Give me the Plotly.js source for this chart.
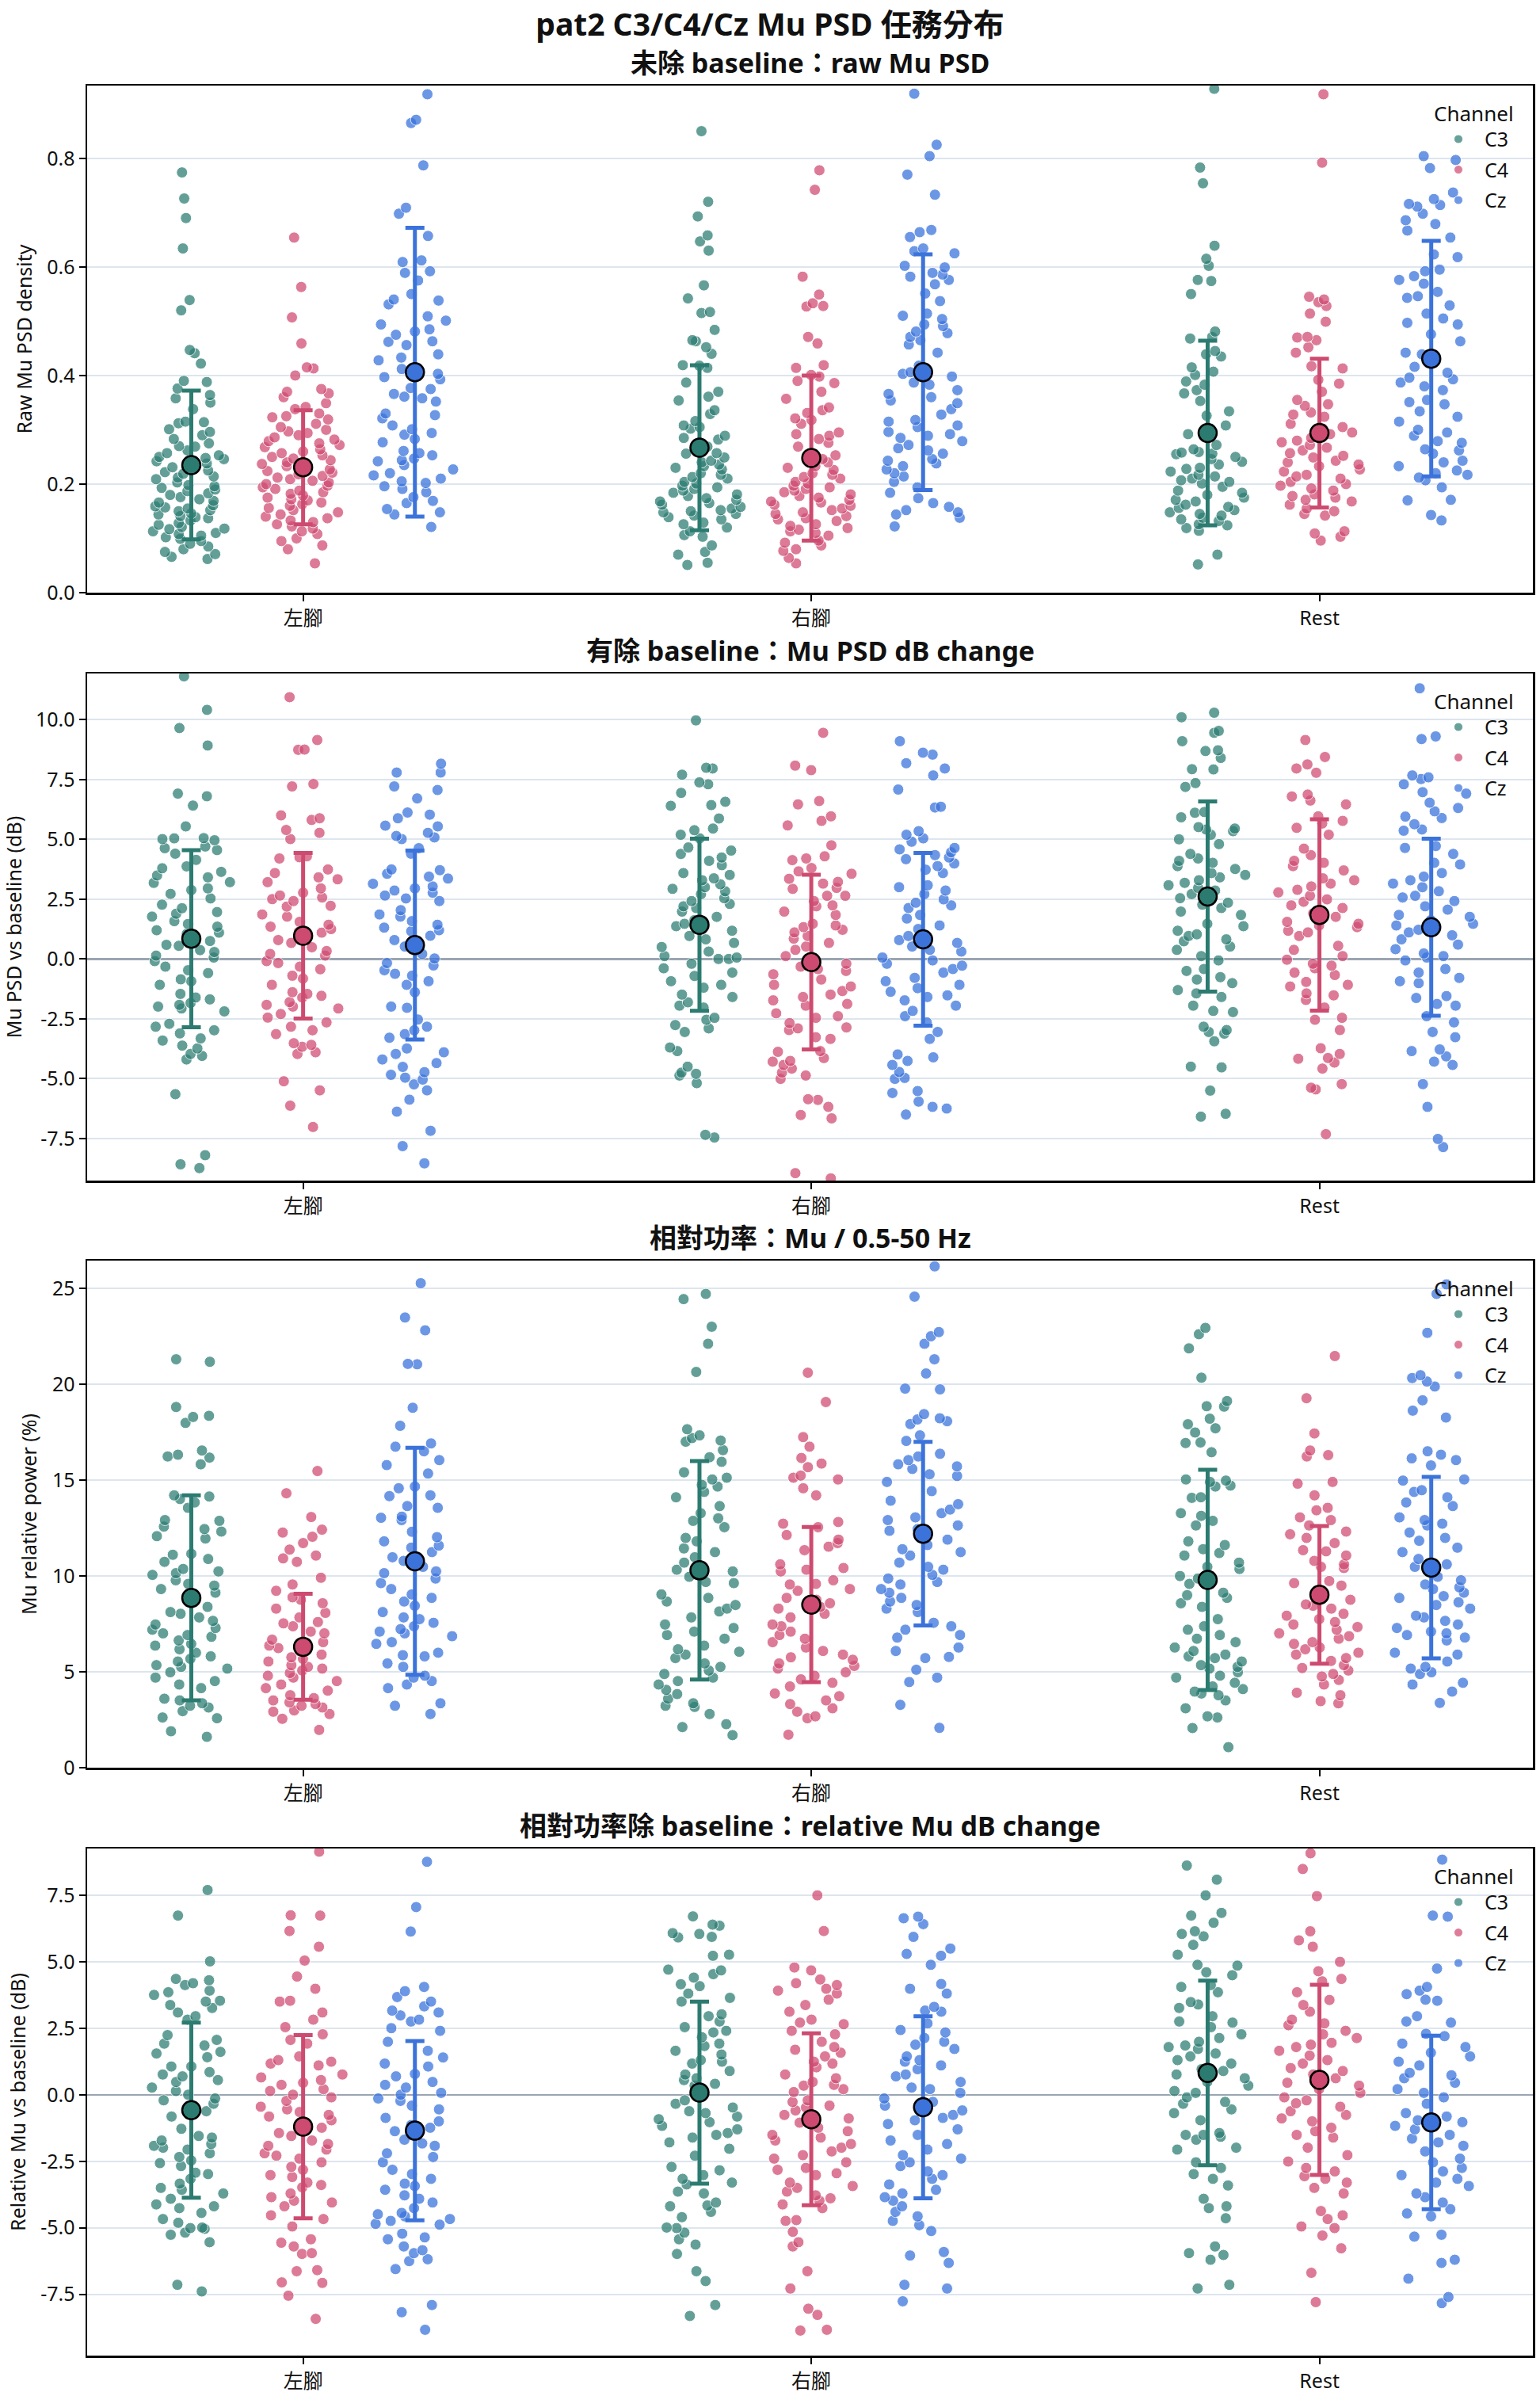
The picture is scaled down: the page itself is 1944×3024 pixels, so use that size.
<!DOCTYPE html>
<html><head><meta charset="utf-8">
<script src="https://cdn.plot.ly/plotly-3.0.1.min.js"></script>
<style>html,body{margin:0;padding:0;background:#fff}#chart{width:1944px;height:3024px}</style>
</head><body><div id="chart"></div>
<script>
const categories = ['左腳','右腳','Rest'];
const channels = ['C3','C4','Cz'];

// Panel 1: raw Mu PSD  (per channel: [左腳, 右腳, Rest])
const rawPSD_C3 = [
 [0.774,0.726,0.690,0.634,0.539,0.520,0.447,0.441,0.422,0.390,0.388,0.376,0.364,0.358,0.350,0.338,0.315,0.314,0.312,0.301,0.296,0.290,0.283,0.275,0.270,0.269,0.262,0.257,0.253,0.250,0.248,0.246,0.242,0.238,0.236,0.231,0.225,0.222,0.219,0.214,0.212,0.209,0.203,0.198,0.196,0.193,0.190,0.187,0.183,0.180,0.176,0.172,0.169,0.166,0.161,0.159,0.157,0.155,0.152,0.150,0.146,0.144,0.141,0.139,0.137,0.133,0.128,0.125,0.121,0.118,0.117,0.113,0.110,0.108,0.105,0.102,0.099,0.095,0.090,0.085,0.080,0.075,0.071,0.066,0.062],
 [0.850,0.720,0.693,0.658,0.647,0.630,0.566,0.542,0.517,0.515,0.484,0.465,0.463,0.452,0.440,0.419,0.418,0.414,0.387,0.370,0.361,0.354,0.336,0.329,0.316,0.308,0.305,0.302,0.289,0.285,0.282,0.269,0.257,0.256,0.249,0.243,0.240,0.236,0.233,0.230,0.227,0.220,0.217,0.213,0.210,0.204,0.201,0.197,0.194,0.191,0.188,0.184,0.181,0.178,0.174,0.171,0.168,0.165,0.162,0.158,0.155,0.152,0.150,0.148,0.145,0.142,0.139,0.135,0.129,0.126,0.120,0.113,0.106,0.103,0.087,0.075,0.070,0.055,0.051],
 [0.928,0.783,0.754,0.639,0.615,0.602,0.576,0.574,0.550,0.481,0.471,0.468,0.445,0.439,0.435,0.415,0.407,0.401,0.389,0.383,0.373,0.367,0.353,0.334,0.326,0.308,0.302,0.292,0.272,0.264,0.259,0.258,0.256,0.255,0.250,0.246,0.241,0.236,0.230,0.228,0.223,0.217,0.214,0.210,0.207,0.204,0.201,0.195,0.188,0.184,0.180,0.175,0.171,0.168,0.162,0.158,0.156,0.152,0.148,0.145,0.142,0.138,0.135,0.132,0.126,0.124,0.119,0.114,0.070,0.052]
];
const rawPSD_C4 = [
 [0.654,0.563,0.507,0.459,0.415,0.413,0.400,0.375,0.370,0.367,0.360,0.349,0.342,0.338,0.330,0.325,0.323,0.319,0.311,0.305,0.300,0.297,0.294,0.290,0.286,0.282,0.279,0.275,0.272,0.268,0.264,0.260,0.257,0.253,0.250,0.247,0.244,0.240,0.237,0.233,0.230,0.227,0.224,0.221,0.218,0.215,0.212,0.209,0.206,0.203,0.200,0.197,0.194,0.191,0.188,0.185,0.182,0.179,0.175,0.172,0.170,0.166,0.163,0.160,0.156,0.152,0.148,0.144,0.140,0.137,0.133,0.130,0.126,0.122,0.118,0.113,0.108,0.100,0.095,0.087,0.080,0.054],
 [0.778,0.742,0.582,0.549,0.533,0.528,0.527,0.471,0.459,0.419,0.414,0.401,0.398,0.390,0.386,0.370,0.357,0.341,0.336,0.331,0.321,0.318,0.311,0.295,0.292,0.289,0.283,0.276,0.269,0.253,0.246,0.243,0.240,0.233,0.230,0.226,0.220,0.217,0.213,0.210,0.204,0.201,0.197,0.194,0.191,0.188,0.185,0.181,0.178,0.175,0.171,0.168,0.166,0.162,0.160,0.155,0.152,0.148,0.145,0.141,0.137,0.135,0.132,0.126,0.123,0.119,0.116,0.113,0.110,0.105,0.096,0.092,0.087,0.080,0.077,0.064,0.054],
 [0.918,0.792,0.545,0.540,0.535,0.528,0.514,0.499,0.471,0.470,0.465,0.452,0.442,0.417,0.413,0.392,0.385,0.370,0.355,0.347,0.344,0.332,0.328,0.324,0.311,0.305,0.302,0.295,0.292,0.285,0.280,0.277,0.272,0.267,0.262,0.257,0.252,0.249,0.243,0.240,0.236,0.233,0.227,0.223,0.217,0.214,0.210,0.204,0.200,0.197,0.192,0.188,0.181,0.178,0.175,0.171,0.168,0.162,0.155,0.150,0.145,0.142,0.113,0.109,0.103,0.096]
];
const rawPSD_Cz = [
 [0.918,0.871,0.865,0.787,0.709,0.698,0.657,0.612,0.609,0.592,0.589,0.575,0.550,0.540,0.538,0.531,0.509,0.501,0.494,0.485,0.481,0.475,0.463,0.462,0.456,0.439,0.433,0.428,0.412,0.408,0.403,0.397,0.393,0.377,0.375,0.366,0.361,0.358,0.352,0.330,0.327,0.321,0.308,0.301,0.294,0.291,0.283,0.277,0.261,0.257,0.253,0.247,0.244,0.242,0.235,0.227,0.220,0.216,0.210,0.205,0.202,0.196,0.191,0.185,0.176,0.169,0.165,0.154,0.148,0.144,0.121],
 [0.919,0.825,0.804,0.770,0.733,0.668,0.664,0.655,0.634,0.629,0.625,0.602,0.599,0.589,0.586,0.582,0.576,0.568,0.551,0.537,0.514,0.510,0.504,0.494,0.491,0.481,0.478,0.471,0.465,0.457,0.442,0.418,0.406,0.403,0.398,0.387,0.383,0.373,0.366,0.360,0.354,0.349,0.338,0.328,0.318,0.315,0.308,0.305,0.296,0.292,0.289,0.285,0.279,0.272,0.266,0.262,0.256,0.246,0.243,0.238,0.233,0.227,0.220,0.214,0.204,0.194,0.184,0.174,0.165,0.158,0.152,0.148,0.144,0.138,0.122],
 [0.804,0.797,0.782,0.737,0.725,0.716,0.714,0.711,0.698,0.686,0.679,0.667,0.654,0.623,0.618,0.595,0.592,0.583,0.576,0.569,0.554,0.546,0.543,0.529,0.514,0.505,0.497,0.494,0.476,0.463,0.442,0.439,0.416,0.405,0.396,0.393,0.387,0.380,0.373,0.355,0.351,0.347,0.334,0.324,0.315,0.300,0.295,0.289,0.279,0.276,0.264,0.262,0.256,0.243,0.240,0.233,0.225,0.220,0.217,0.212,0.207,0.194,0.171,0.170,0.143,0.133]
];
// rows: C3, C4, Cz; cols: 左腳, 右腳, Rest
const rawPSD_mean = [[0.235,0.267,0.294],[0.231,0.248,0.294],[0.406,0.406,0.431]];
const rawPSD_sd   = [[0.137,0.152,0.170],[0.105,0.152,0.137],[0.266,0.217,0.217]];

// Panel 2: Mu PSD dB change vs baseline
const dB_C3 = [
 [11.81,10.41,9.65,8.92,6.91,6.80,6.41,5.54,5.05,5.04,5.01,4.96,4.70,4.63,4.55,4.40,4.14,3.87,3.79,3.64,3.49,3.41,3.21,3.18,2.95,2.88,2.72,2.53,2.27,2.12,1.96,1.89,1.77,1.58,1.46,1.35,1.20,1.10,1.05,0.75,0.59,0.55,0.37,0.29,0.14,0.06,-0.09,-0.32,-0.47,-0.59,-0.85,-0.93,-1.08,-1.46,-1.61,-1.69,-1.84,-1.92,-1.99,-2.07,-2.19,-2.71,-2.83,-2.98,-3.11,-3.32,-3.41,-3.62,-3.74,-3.97,-4.05,-4.20,-5.65,-8.20,-8.58,-8.74],
 [9.97,7.99,7.96,7.70,7.38,7.30,6.94,6.57,6.43,6.40,5.87,5.45,5.38,5.19,5.04,4.66,4.53,4.39,4.24,4.10,3.92,3.59,3.51,3.37,3.29,3.12,3.00,2.93,2.83,2.71,2.54,2.42,2.30,2.20,2.13,1.98,1.76,1.62,1.47,1.37,1.18,0.96,0.82,0.67,0.50,0.31,0.12,0.06,0.00,0.00,-0.20,-0.39,-0.57,-0.71,-0.93,-1.08,-1.20,-1.49,-1.59,-1.81,-1.95,-2.03,-2.46,-2.54,-2.76,-2.90,-3.05,-3.70,-3.85,-4.50,-4.75,-4.80,-4.87,-5.19,-7.35,-7.46],
 [10.29,10.10,9.53,9.45,9.10,8.72,8.69,8.40,7.93,7.92,7.35,7.19,6.14,6.11,5.92,5.51,5.45,5.41,5.34,5.19,5.00,4.80,4.39,4.20,4.10,4.02,3.88,3.76,3.59,3.51,3.41,3.29,3.18,3.08,2.97,2.86,2.71,2.54,2.35,2.27,2.13,1.98,1.84,1.47,1.37,1.18,1.03,0.96,0.82,0.74,0.52,0.38,0.12,-0.06,-0.42,-0.50,-0.76,-0.86,-1.01,-1.30,-1.44,-1.59,-1.95,-2.17,-2.22,-2.83,-2.97,-3.05,-3.12,-3.44,-4.50,-4.53,-5.50,-6.47,-6.59]
];
const dB_C4 = [
 [10.94,9.15,8.75,8.74,7.31,7.21,6.00,5.88,5.81,5.39,5.27,5.01,4.29,4.25,4.20,3.74,3.59,3.41,3.33,3.21,2.95,2.77,2.65,2.57,2.50,2.42,2.22,2.19,1.86,1.77,1.55,1.43,1.35,1.25,1.13,1.10,0.79,0.67,0.49,0.33,0.21,0.14,-0.09,-0.17,-0.32,-0.43,-0.70,-0.82,-1.08,-1.39,-1.46,-1.54,-1.61,-1.80,-1.92,-1.99,-2.07,-2.30,-2.45,-2.65,-2.83,-2.98,-3.14,-3.52,-3.59,-3.67,-3.90,-3.97,-5.11,-5.49,-6.13,-7.02],
 [9.45,8.08,7.89,6.60,6.46,5.96,5.77,5.58,4.75,4.29,4.20,4.13,3.80,3.66,3.56,3.35,3.22,3.15,2.97,2.93,2.64,2.64,2.42,2.24,2.20,1.98,1.84,1.47,1.40,1.33,1.22,1.11,0.96,0.85,0.67,0.52,0.38,0.12,-0.20,-0.32,-0.42,-0.50,-0.64,-0.86,-1.08,-1.15,-1.34,-1.49,-1.59,-1.73,-1.88,-1.95,-2.27,-2.39,-2.46,-2.68,-2.86,-2.90,-2.97,-3.27,-3.34,-3.85,-3.88,-4.14,-4.26,-4.29,-4.43,-4.58,-4.75,-4.87,-5.01,-5.86,-5.89,-6.18,-6.52,-6.66,-8.95,-9.17],
 [9.15,8.44,8.13,7.96,7.78,6.87,6.79,6.62,6.46,5.96,5.77,5.66,5.48,5.19,4.61,4.34,4.10,4.02,3.88,3.70,3.37,3.29,3.15,3.03,2.89,2.78,2.64,2.49,2.39,2.24,2.13,1.91,1.76,1.55,1.47,1.40,1.33,1.18,1.11,0.96,0.55,0.38,0.12,-0.03,-0.20,-0.28,-0.39,-0.57,-0.67,-0.96,-1.08,-1.15,-1.44,-1.52,-1.71,-2.03,-2.46,-2.54,-2.97,-3.73,-3.97,-4.14,-4.17,-4.33,-4.58,-5.23,-5.38,-5.45,-7.32]
];
const dB_Cz = [
 [8.16,7.79,7.79,7.21,7.06,6.71,6.12,6.03,5.88,5.57,5.54,5.27,5.14,5.08,5.01,4.63,4.40,3.74,3.71,3.56,3.44,3.36,3.14,3.03,2.95,2.86,2.77,2.65,2.53,2.42,2.04,1.86,1.77,1.58,1.43,1.31,1.20,1.16,0.97,0.79,0.52,0.21,0.02,-0.17,-0.27,-0.47,-0.62,-0.70,-0.93,-1.08,-1.39,-1.99,-2.04,-2.53,-2.83,-2.98,-3.14,-3.29,-3.74,-3.90,-3.97,-4.20,-4.35,-4.51,-4.73,-4.84,-4.96,-5.04,-5.24,-5.49,-5.88,-6.38,-7.18,-7.82,-8.54],
 [9.10,8.62,8.54,8.18,7.96,7.67,7.08,6.36,6.33,5.34,5.19,5.04,4.90,4.64,4.58,4.46,4.34,4.24,4.17,3.99,3.88,3.73,3.59,3.08,3.00,2.86,2.71,2.49,2.35,2.24,2.13,1.84,1.69,1.40,1.25,0.96,0.79,0.67,0.52,0.38,0.31,0.06,-0.06,-0.20,-0.28,-0.42,-0.57,-0.79,-0.93,-1.08,-1.22,-1.37,-1.52,-1.59,-1.73,-1.95,-2.17,-2.39,-2.65,-3.05,-3.34,-3.99,-4.11,-4.26,-4.43,-4.72,-4.97,-5.01,-5.52,-5.60,-5.96,-6.18,-6.25,-6.50],
 [11.31,9.30,9.19,7.67,7.59,7.52,7.30,6.97,6.91,6.53,6.31,6.17,5.95,5.89,5.63,5.41,5.36,4.72,4.64,4.39,4.02,3.95,3.59,3.44,3.29,3.15,3.00,2.83,2.64,2.57,2.42,2.20,2.06,1.84,1.76,1.62,1.47,1.40,1.22,1.11,0.99,0.82,0.60,0.41,0.23,0.12,0.06,-0.06,-0.42,-0.57,-0.79,-0.93,-1.01,-1.55,-1.63,-1.88,-1.95,-2.39,-2.65,-3.05,-3.27,-3.78,-3.85,-4.07,-4.29,-4.43,-5.23,-6.18,-7.52,-7.86]
];
const dB_mean = [[0.85,1.43,2.61],[0.97,-0.13,1.84],[0.58,0.82,1.33]];
const dB_sd   = [[3.70,3.60,3.97],[3.46,3.65,4.00],[3.95,3.61,3.70]];

// Panel 3: Mu relative power (%)
const rel_C3 = [
 [21.31,21.18,18.82,18.36,18.30,17.99,16.55,16.33,16.24,16.18,15.83,14.21,14.15,14.02,13.84,13.56,12.92,12.88,12.58,12.45,12.32,12.08,11.96,11.16,11.11,10.89,10.74,10.37,10.24,10.15,10.06,9.78,9.59,9.50,9.32,9.13,8.99,8.39,8.12,8.03,7.84,7.66,7.47,7.29,7.20,7.01,6.92,6.83,6.64,6.46,6.37,6.18,6.00,5.81,5.68,5.54,5.35,5.26,5.17,4.98,4.70,4.52,4.34,4.15,3.60,3.51,3.36,3.23,3.14,2.95,2.62,2.58,1.90,1.61],
 [24.72,24.45,23.01,22.12,20.65,17.66,17.34,17.20,17.07,17.01,16.57,16.20,15.96,15.41,15.13,15.04,14.76,14.67,14.39,14.11,13.65,13.28,13.01,12.88,12.55,11.99,11.81,11.44,11.25,10.98,10.70,10.33,10.24,9.96,9.69,9.63,9.04,8.86,8.67,8.49,8.30,8.15,7.84,7.47,7.29,7.10,6.92,6.73,6.37,6.18,6.05,5.90,5.72,5.44,5.26,5.07,4.89,4.70,4.52,4.34,4.06,3.84,3.60,3.36,3.23,3.17,2.80,2.27,2.12,1.70],
 [22.95,22.62,21.88,20.35,19.13,18.86,18.84,18.21,17.92,17.71,17.49,16.97,16.94,16.46,15.04,14.98,14.91,14.72,14.67,14.11,14.08,13.28,13.14,12.88,12.64,11.81,11.62,11.40,11.20,11.07,10.70,10.48,10.37,10.00,9.87,9.59,9.13,9.00,8.86,8.58,8.39,7.75,7.38,7.20,6.92,6.73,6.55,6.27,6.09,5.90,5.81,5.72,5.54,5.35,5.26,5.17,4.98,4.80,4.70,4.43,4.24,4.10,3.97,3.87,3.78,3.51,3.10,2.68,2.62,2.07,1.07]
];
const rel_C4 = [
 [15.48,14.32,13.08,12.42,12.27,12.05,11.72,11.38,11.07,10.92,10.74,9.91,9.56,9.23,8.89,8.76,8.58,8.30,8.08,7.84,7.60,7.53,7.38,7.10,7.01,6.68,6.55,6.37,6.24,6.09,5.90,5.76,5.68,5.54,5.35,5.26,5.17,5.07,4.94,4.80,4.70,4.52,4.34,4.15,4.02,3.78,3.63,3.51,3.41,3.32,3.23,3.14,2.99,2.92,2.80,2.55,1.97],
 [20.61,19.08,17.25,16.75,16.16,15.87,15.68,15.24,15.13,15.04,14.58,14.21,12.82,12.73,12.55,12.14,11.90,11.72,11.53,11.35,10.61,10.42,10.33,10.24,9.78,9.59,9.56,9.32,9.23,8.86,8.76,8.58,8.39,8.30,8.03,7.84,7.47,7.38,7.10,6.92,6.73,6.55,6.27,6.09,5.90,5.76,5.63,5.44,5.31,5.17,4.98,4.80,4.61,4.43,4.24,3.87,3.73,3.51,3.32,3.10,2.92,2.68,2.58,1.72],
 [21.48,19.28,17.44,16.55,16.31,16.24,14.91,14.82,14.21,13.56,13.43,13.06,12.92,12.64,12.32,12.18,11.99,11.72,11.35,11.29,11.07,10.79,10.61,10.48,10.42,9.74,9.63,9.50,9.13,8.76,8.52,8.45,8.30,8.03,7.93,7.75,7.60,7.47,7.34,7.20,7.01,6.86,6.73,6.55,6.46,6.27,6.18,6.00,5.90,5.72,5.57,5.35,5.20,5.07,4.89,4.76,4.58,4.34,3.91,3.78,3.47,3.36]
];
const rel_Cz = [
 [25.28,23.49,22.82,21.07,21.05,18.78,17.84,16.92,16.75,16.51,16.05,15.79,15.35,14.67,14.58,14.21,14.17,13.65,13.56,13.10,13.04,12.92,12.31,12.03,11.81,11.59,11.48,11.25,10.98,10.79,10.48,10.24,10.15,9.87,9.63,9.32,9.04,8.86,8.67,8.45,8.12,7.84,7.75,7.56,7.38,7.23,7.10,7.01,6.86,6.55,6.46,6.00,5.87,5.81,5.44,5.26,4.80,4.70,4.52,4.34,4.15,3.36,3.23,2.80],
 [26.16,24.58,22.73,22.51,22.12,21.31,20.57,19.78,19.74,18.45,18.23,18.17,18.08,17.93,17.34,17.05,16.38,16.24,16.05,15.83,15.72,15.59,15.31,15.22,14.91,14.43,13.93,13.75,13.47,13.28,13.06,12.92,12.64,12.45,12.36,11.90,11.62,11.40,11.25,11.07,10.70,10.48,10.33,10.06,9.87,9.69,9.56,9.32,9.13,8.86,8.67,8.49,8.30,8.12,7.56,7.38,7.20,6.92,6.79,6.27,6.09,5.78,5.72,5.11,4.70,4.47,3.28,2.08],
 [25.22,24.72,22.69,20.48,20.33,20.15,19.89,19.17,18.63,18.27,16.51,16.33,16.14,16.05,15.77,15.04,14.98,14.48,14.39,14.11,13.84,13.65,13.06,12.92,12.73,12.64,12.27,11.99,11.84,11.48,11.25,10.89,10.61,10.48,9.96,9.78,9.56,9.41,9.32,9.13,8.95,8.86,8.63,8.49,8.30,7.93,7.84,7.66,7.47,7.29,7.10,7.01,6.92,6.79,6.64,6.00,5.90,5.54,5.26,5.17,4.98,4.89,4.43,4.34,3.97,3.38]
];
const rel_mean = [[8.86,10.30,9.80],[6.31,8.51,9.02],[10.77,12.21,10.44]];
const rel_sd   = [[5.35,5.70,5.75],[2.76,4.05,3.59],[5.92,4.79,4.73]];

// Panel 4: relative Mu dB change vs baseline
const relDB_C3 = [
 [7.69,6.73,5.01,4.35,4.30,4.19,4.12,3.91,3.85,3.75,3.53,3.50,3.37,3.26,3.09,2.95,2.82,2.24,2.06,1.92,1.85,1.61,1.55,1.41,1.06,1.06,0.85,0.76,0.69,0.55,0.48,0.27,0.14,0.00,-0.14,-0.21,-0.34,-0.48,-0.62,-0.82,-1.28,-1.55,-1.61,-1.72,-1.85,-1.92,-1.99,-2.06,-2.20,-2.34,-2.47,-2.57,-2.68,-2.93,-2.98,-3.16,-3.34,-3.50,-3.57,-3.71,-3.91,-4.12,-4.19,-4.26,-4.44,-4.67,-4.81,-4.99,-5.01,-5.04,-5.18,-5.26,-5.54,-7.14,-7.39],
 [6.70,6.39,6.35,6.07,6.04,5.93,5.91,5.26,5.22,4.70,4.67,4.53,4.40,4.15,4.08,3.80,3.64,3.50,3.02,2.95,2.75,2.54,2.40,2.34,2.16,1.92,1.83,1.65,1.51,1.30,1.24,1.17,0.89,0.76,0.62,0.55,0.41,0.34,-0.21,-0.34,-0.48,-0.62,-0.69,-0.82,-0.92,-1.03,-1.17,-1.30,-1.44,-1.51,-1.61,-1.79,-2.03,-2.29,-2.71,-2.84,-3.02,-3.16,-3.30,-3.37,-3.64,-3.71,-4.05,-4.16,-4.19,-4.40,-4.60,-4.99,-5.01,-5.18,-5.43,-5.63,-5.98,-6.63,-7.00,-7.90,-8.31],
 [8.61,8.08,7.49,6.83,6.73,6.46,6.14,6.04,5.95,5.63,5.26,4.88,4.85,4.60,4.49,4.12,4.05,3.85,3.48,3.39,3.26,2.95,2.75,2.71,2.54,2.27,2.13,1.99,1.85,1.79,1.72,1.55,1.44,1.30,1.17,0.96,0.89,0.76,0.62,0.48,0.34,0.14,0.07,-0.10,-0.27,-0.34,-0.55,-0.69,-0.96,-1.44,-1.51,-1.51,-1.58,-1.69,-1.99,-2.06,-2.54,-2.75,-2.98,-3.16,-3.41,-3.91,-4.19,-4.26,-4.64,-5.70,-5.95,-6.02,-6.20,-7.14,-7.28]
];
const relDB_C4 = [
 [9.13,6.74,6.73,6.15,5.56,5.04,4.44,3.98,3.53,3.50,3.09,2.82,2.54,2.27,2.06,1.92,1.44,1.30,1.24,1.17,1.10,0.76,0.65,0.55,0.45,0.37,0.21,0.14,0.00,-0.10,-0.23,-0.45,-0.55,-0.65,-0.76,-0.82,-0.96,-1.17,-1.24,-1.44,-1.55,-1.72,-1.85,-1.92,-2.06,-2.20,-2.29,-2.40,-2.54,-2.71,-2.82,-3.02,-3.09,-3.30,-3.39,-3.48,-3.71,-3.85,-3.98,-4.05,-4.19,-4.53,-4.67,-4.95,-5.43,-5.56,-5.70,-5.95,-5.98,-6.59,-6.63,-7.05,-7.07,-7.55,-8.42],
 [7.49,6.15,4.78,4.67,4.33,4.19,4.12,3.98,3.91,3.80,3.57,3.37,3.12,2.82,2.71,2.65,2.40,2.27,1.99,1.79,1.69,1.58,1.44,1.24,1.17,1.03,0.76,0.62,0.48,0.37,0.34,0.21,0.10,-0.21,-0.27,-0.41,-0.48,-0.59,-0.76,-0.89,-1.05,-1.24,-1.37,-1.51,-1.61,-1.72,-1.85,-1.99,-2.13,-2.27,-2.40,-2.54,-2.75,-2.82,-2.95,-3.02,-3.30,-3.43,-3.50,-3.64,-3.78,-3.89,-3.98,-4.12,-4.26,-4.71,-4.74,-5.15,-5.54,-5.70,-6.63,-7.28,-8.04,-8.27,-8.83,-8.86],
 [9.07,8.48,7.46,6.14,5.80,5.56,4.99,4.64,4.35,4.26,3.85,3.56,3.37,3.12,2.82,2.68,2.61,2.40,2.27,2.13,1.95,1.88,1.79,1.65,1.47,1.30,1.17,1.00,0.89,0.76,0.62,0.45,0.34,0.21,0.07,-0.10,-0.21,-0.32,-0.45,-0.62,-0.76,-0.89,-1.00,-1.24,-1.37,-1.51,-1.61,-1.99,-2.27,-2.51,-2.75,-2.88,-3.06,-3.16,-3.30,-3.50,-3.71,-4.37,-4.53,-4.67,-4.95,-5.01,-5.29,-5.77,-6.69,-7.79]
];
const relDB_Cz = [
 [8.75,7.05,6.13,4.05,3.89,3.67,3.50,3.32,3.16,3.09,2.98,2.82,2.75,2.50,2.40,1.99,1.65,1.40,1.17,1.06,0.78,0.69,0.48,0.37,0.27,0.07,0.00,-0.14,-0.23,-0.41,-0.55,-0.87,-1.00,-1.14,-1.24,-1.37,-1.69,-1.83,-1.92,-2.20,-2.34,-2.54,-2.82,-2.98,-3.16,-3.34,-3.43,-3.57,-3.78,-3.91,-4.05,-4.26,-4.44,-4.49,-4.57,-4.67,-4.74,-4.85,-4.88,-5.22,-5.36,-5.43,-5.70,-5.84,-5.95,-6.18,-6.25,-6.55,-7.90,-8.17,-8.83],
 [6.69,6.63,6.41,5.93,5.49,5.29,5.22,4.88,4.16,3.98,3.80,3.30,3.16,3.12,2.68,2.43,2.34,2.13,1.99,1.88,1.72,1.44,1.30,1.24,1.10,0.96,0.76,0.69,0.48,0.27,0.21,0.07,-0.14,-0.27,-0.41,-0.59,-0.76,-0.87,-0.96,-1.10,-1.30,-1.51,-1.72,-1.85,-2.06,-2.27,-2.40,-2.54,-2.68,-2.88,-3.02,-3.16,-3.37,-3.57,-3.71,-3.85,-3.98,-4.19,-4.40,-4.57,-4.74,-4.90,-5.12,-5.91,-6.04,-6.32,-7.14,-7.28,-7.76],
 [8.83,6.73,6.69,4.74,4.05,3.91,3.78,3.57,3.53,2.95,2.75,2.71,2.29,2.20,1.92,1.79,1.58,1.44,1.24,1.10,0.82,0.73,0.62,0.45,0.21,0.07,-0.10,-0.34,-0.69,-0.82,-0.96,-1.03,-1.17,-1.30,-1.51,-1.65,-1.79,-1.92,-2.13,-2.40,-2.54,-2.75,-2.88,-3.02,-3.16,-3.30,-3.43,-3.71,-3.85,-4.05,-4.30,-4.46,-4.57,-5.26,-5.33,-6.20,-6.32,-6.91,-7.60,-7.83]
];
const relDB_mean = [[-0.58,0.08,0.82],[-1.20,-0.92,0.56],[-1.35,-0.47,-1.04]];
const relDB_sd   = [[3.29,3.42,3.47],[3.44,3.23,3.57],[3.37,3.42,3.26]];

const mainTitle = 'pat2 C3/C4/Cz Mu PSD 任務分布';
const panelTitles = ['未除 baseline：raw Mu PSD','有除 baseline：Mu PSD dB change','相對功率：Mu / 0.5-50 Hz','相對功率除 baseline：relative Mu dB change'];
const yTitles = ['Raw Mu PSD density','Mu PSD vs baseline (dB)','Mu relative power (%)','Relative Mu vs baseline (dB)'];
const yTickVals = [
 [0,0.2,0.4,0.6,0.8],
 [-7.5,-5,-2.5,0,2.5,5,7.5,10],
 [0,5,10,15,20,25],
 [-7.5,-5,-2.5,0,2.5,5,7.5]
];
const yTickDecimals = [1,1,0,1];

// ---------- styling / layout ----------
const FONT = 'Noto Sans, "Noto Sans CJK TC", sans-serif';
const pointColor = ['#2d7e74','#d04c73','#3a73dc'];
const darkColor  = ['#2c7b71','#cd4b70','#3b73da'];
const offsets = [-0.22, 0, 0.22];
const panels = [
 {pts:[rawPSD_C3,rawPSD_C4,rawPSD_Cz], mean:rawPSD_mean, sd:rawPSD_sd, range:[0,0.934], zero:false},
 {pts:[dB_C3,dB_C4,dB_Cz], mean:dB_mean, sd:dB_sd, range:[-9.26,11.93], zero:true},
 {pts:[rel_C3,rel_C4,rel_Cz], mean:rel_mean, sd:rel_sd, range:[0,26.46], zero:false},
 {pts:[relDB_C3,relDB_C4,relDB_Cz], mean:relDB_mean, sd:relDB_sd, range:[-9.80,9.25], zero:true}
];
// pixel geometry of plot areas (figure 1944x3024)
const M = {l:110, r:9, t:108, b:51};
const plotH = 3024 - M.t - M.b;
const panelPx = [[108,748],[850,1490],[1591,2231],[2333,2973]];
const toPaper = px => (3024 - M.b - px) / plotH;

const traces = [];
const layout = {
  width:1944, height:3024, margin:M,
  paper_bgcolor:'#ffffff', plot_bgcolor:'#ffffff',
  font:{family:FONT, size:25, color:'#111111'},
  showlegend:true,
  title:{text:'<b>' + mainTitle + '</b>', x:0.5, xref:'container', xanchor:'center', y:1-31/3024, yref:'container', yanchor:'middle',
         font:{family:FONT, size:39, color:'#111111'}},
  annotations:[]
};

panels.forEach((P, pi) => {
  const sfx = pi === 0 ? '' : String(pi+1);
  const xa = 'x' + sfx, ya = 'y' + sfx;
  const legName = 'legend' + sfx;
  P.pts.forEach((groups, ci) => {
    const xs = [], ys = [];
    groups.forEach((vals, k) => { vals.forEach(v => { xs.push(k + offsets[ci]); ys.push(v); }); });
    traces.push({
      type:'box', x:xs, y:ys, xaxis:xa, yaxis:ya, name:channels[ci],
      boxpoints:'all', jitter:1, pointpos:0, width:0.17,
      fillcolor:'rgba(0,0,0,0)', line:{width:0, color:'rgba(0,0,0,0)'}, whiskerwidth:0,
      marker:{color:pointColor[ci], size:14, opacity:0.74, line:{color:'#ffffff', width:1}},
      hoverinfo:'skip', showlegend:false
    });
  });
  P.pts.forEach((groups, ci) => {
    traces.push({
      type:'scatter', mode:'markers', xaxis:xa, yaxis:ya, name:channels[ci],
      x:categories.map((c,k) => k + offsets[ci]), y:P.mean[ci],
      error_y:{type:'data', array:P.sd[ci], visible:true, color:darkColor[ci], thickness:5, width:12},
      marker:{color:darkColor[ci], size:23, line:{color:'#000000', width:2.5}},
      hoverinfo:'skip', showlegend:false, cliponaxis:false
    });
  });
  // legend entries
  channels.forEach((ch, ci) => {
    traces.push({
      type:'scatter', mode:'markers', x:[null], y:[null], xaxis:xa, yaxis:ya, name:ch,
      legend:legName, legendgroup:ch + sfx,
      marker:{color:pointColor[ci], size:11, opacity:0.72, line:{color:'#ffffff', width:1}},
      showlegend:true, hoverinfo:'skip'
    });
  });

  const top = toPaper(panelPx[pi][0]), bot = toPaper(panelPx[pi][1]);
  layout['xaxis' + sfx] = {
    domain:[0,1], anchor:ya, range:[-0.425,2.42],
    tickmode:'array', tickvals:categories.map((c,k)=>k), ticktext:categories,
    showline:true, mirror:true, linecolor:'#000000', linewidth:2.5,
    ticks:'outside', ticklen:8, tickwidth:2, tickcolor:'#000000',
    showgrid:false, zeroline:false, tickfont:{size:25, color:'#111111'}
  };
  layout['yaxis' + sfx] = {
    domain:[bot, top], anchor:xa, range:P.range,
    tickmode:'array', tickvals:yTickVals[pi], ticktext:yTickVals[pi].map(v => v.toFixed(yTickDecimals[pi])),
    showline:true, mirror:true, linecolor:'#000000', linewidth:2.5,
    ticks:'outside', ticklen:8, tickwidth:2, tickcolor:'#000000',
    showgrid:true, gridcolor:'#dde5ee', gridwidth:2,
    zeroline:P.zero, zerolinecolor:'#9aa5b2', zerolinewidth:2.5,
    tickfont:{size:25, color:'#111111'},
    title:{text:yTitles[pi], font:{size:25, color:'#111111'}, standoff:12}
  };
  layout[legName] = {
    x:(1808-110)/1825, xanchor:'left', y:top - 11/plotH, yanchor:'top',
    bgcolor:'rgba(0,0,0,0)', borderwidth:0,
    title:{text:'Channel', font:{size:26, color:'#111111'}},
    font:{size:25, color:'#111111'}, tracegroupgap:3, itemwidth:56,
    traceorder:'grouped'
  };
  layout.annotations.push({
    text:'<b>' + panelTitles[pi] + '</b>', xref:'paper', yref:'paper', x:0.5, y:top,
    xanchor:'center', yanchor:'bottom', yshift:4, showarrow:false,
    font:{family:FONT, size:34, color:'#111111'}
  });
});

Plotly.newPlot('chart', traces, layout, {staticPlot:true, displayModeBar:false});
</script>
</body></html>
